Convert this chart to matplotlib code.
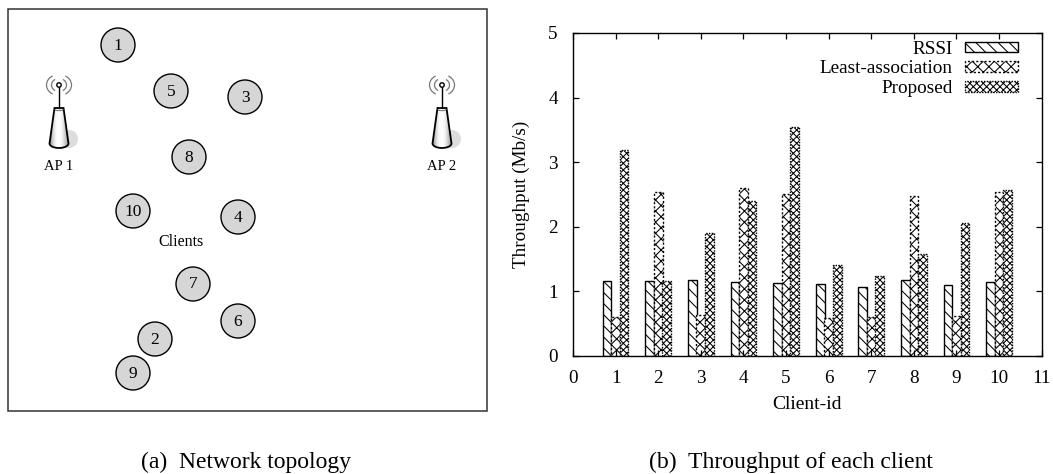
import numpy as np
import matplotlib
matplotlib.use("Agg")
import matplotlib.pyplot as plt
from matplotlib.patches import Circle, Polygon, Rectangle, Arc

plt.rcParams['font.family'] = ['Liberation Serif', 'DejaVu Serif']
plt.rcParams['hatch.linewidth'] = 0.75

clients = [1, 2, 3, 4, 5, 6, 7, 8, 9, 10]
rssi = [1.16, 1.15, 1.17, 1.14, 1.12, 1.11, 1.06, 1.17, 1.09, 1.14]
least = [0.60, 2.53, 0.63, 2.60, 2.50, 0.58, 0.60, 2.47, 0.62, 2.53]
proposed = [3.18, 1.15, 1.90, 2.40, 3.55, 1.40, 1.24, 1.58, 2.05, 2.56]
series_names = ['RSSI', 'Least-association', 'Proposed']
xticks = list(range(0, 12))
yticks = [0, 1, 2, 3, 4, 5]

node_ids = ['1', '5', '3', '8', '10', '4', '7', '6', '2', '9']
node_x = [118, 171, 245, 189, 133, 238, 193, 238, 155, 133]
node_y = [45, 91, 97, 157, 211, 217, 284, 321, 339, 373]
ap_names = ['AP 1', 'AP 2']
ap_x = [59, 442]

W, H = 1053, 474
fig = plt.figure(figsize=(W / 100, H / 100), dpi=100)

# ---- left panel, in pixel coordinates
bg = fig.add_axes([0, 0, 1, 1])
bg.set_xlim(0, W)
bg.set_ylim(H, 0)
bg.axis('off')
bg.add_patch(Rectangle((8, 9), 478.5, 402, fc='white', ec='#333333', lw=1.1))

for name, x, y in zip(node_ids, node_x, node_y):
    bg.add_patch(Circle((x, y), 17, fc='#d6d6d6', ec='black', lw=1.0))
    bg.text(x, y + 0.5, name, ha='center', va='center', fontsize=12.5)

grad = np.array([[0.6, 0.85, 0.98, 1.0, 0.96, 0.82, 0.66]])
for name, x in zip(ap_names, ap_x):
    bg.add_patch(Circle((x + 10, 139), 9, fc='#dddddd', ec='none'))
    t = np.linspace(0, np.pi, 15)
    bottom = [(x + 9.5 * np.cos(a), 143.5 + 4.5 * np.sin(a)) for a in t]
    body = Polygon([(x - 4.5, 108), (x + 4.5, 108)] + bottom, closed=True, fc='none',
                   ec='black', lw=1.3, zorder=4)
    bg.add_patch(body)
    im = bg.imshow(grad, cmap='gray', vmin=0, vmax=1, aspect='auto',
                   extent=(x - 10, x + 10, 148, 107), zorder=3, interpolation='bilinear')
    im.set_clip_path(body)
    bg.plot([x, x], [85, 108], color='black', lw=1.0, zorder=4)
    bg.add_patch(Circle((x, 85), 2.2, fc='white', ec='black', lw=1.0, zorder=5))
    bg.add_patch(Arc((x, 109), 9, 3.5, theta1=0, theta2=180, color='#555555', lw=0.6, zorder=5))
    for wid, hei in ((15, 13), (25, 21)):
        bg.add_patch(Arc((x, 85), wid, hei, theta1=125, theta2=235, color='#777777', lw=0.9))
        bg.add_patch(Arc((x, 85), wid, hei, theta1=-55, theta2=55, color='#777777', lw=0.9))
    bg.text(x, 166, name, ha='center', va='center', fontsize=10.5)
bg.set_xlim(0, W)
bg.set_ylim(H, 0)

bg.text(181, 242, 'Clients', ha='center', va='center', fontsize=11.5)
bg.text(246.5, 468, '(a)  Network topology', ha='center', va='baseline', fontsize=17)
bg.text(791, 468, '(b)  Throughput of each client', ha='center', va='baseline', fontsize=17)

# ---- right panel
ax = fig.add_axes([573 / W, 1 - 355.7 / H, (1041.7 - 573) / W, (355.7 - 33) / H])
ax.patch.set_alpha(0)
x = np.array(clients, dtype=float)
w = 0.205
ax.bar(x - 0.2, rssi, w, fc='white', ec='black', lw=1.0, hatch='\\\\\\', label=series_names[0])
ax.bar(x, least, w, fc='white', ec='black', lw=1.0, ls=(0, (1.5, 1.5)), hatch='xxx', label=series_names[1])
ax.bar(x + 0.2, proposed, w, fc='white', ec='black', lw=1.0, ls=(0, (1, 1)), hatch='xxxxx', label=series_names[2])
ax.set_xlim(0, 11)
ax.set_ylim(0, 5)
ax.set_xticks(xticks)
ax.set_yticks(yticks)
ax.tick_params(direction='in', top=True, right=True, length=4, width=0.9, labelsize=13.8, pad=10)
ax.tick_params(axis='y', pad=11)
for s in ax.spines.values():
    s.set_linewidth(1.0)
ax.set_xlabel('Client-id', fontsize=14, labelpad=7)
ax.set_ylabel('Throughput (Mb/s)', fontsize=13.8, labelpad=13)
leg = ax.legend(frameon=False, markerfirst=False, loc='upper right', fontsize=13.8,
                bbox_to_anchor=(0.95, 0.976), borderaxespad=0, handlelength=2.8, handleheight=0.46,
                labelspacing=0.14, handletextpad=0.62, borderpad=0.0)
for t in leg.get_texts():
    t.set_ha('right')
fig.savefig('out.png', dpi=100)
